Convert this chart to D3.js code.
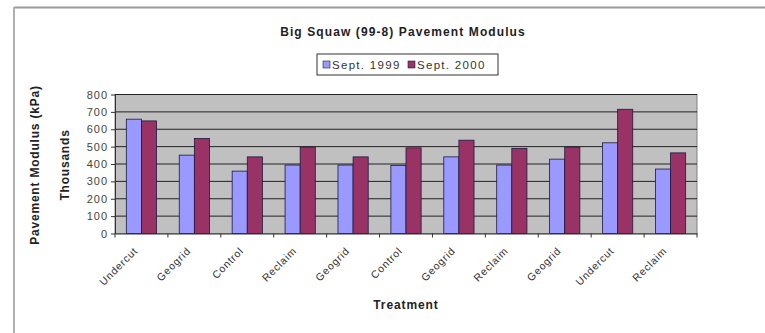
<!DOCTYPE html>
<html>
<head>
<meta charset="utf-8">
<script src="https://cdn.jsdelivr.net/npm/d3@7"></script>
<style>
  html, body { margin: 0; padding: 0; background: #fff; }
  svg { display: block; font-family: Arial, "Liberation Sans", sans-serif; }
</style>
</head>
<body>
<svg id="chart" width="765" height="333"></svg>
<script>
// Pavement modulus by treatment section (kPa, in thousands)
const categories = ["Undercut", "Geogrid", "Control", "Reclaim", "Geogrid", "Control",
                    "Geogrid", "Reclaim", "Geogrid", "Undercut", "Reclaim"];
const sept1999 = [658, 451, 359, 394, 394, 392, 441, 394, 428, 522, 371];
const sept2000 = [648, 547, 441, 497, 441, 493, 537, 490, 497, 715, 464];
const seriesNames = ["Sept. 1999", "Sept. 2000"];
const yTicks = [0, 100, 200, 300, 400, 500, 600, 700, 800];

const colors = ["#9999FF", "#993366"];
const svg = d3.select("#chart");

// chart area frame (top and left edges)
svg.append("line").attr("x1", 14).attr("x2", 765).attr("y1", 7.5).attr("y2", 7.5)
  .attr("stroke", "#9a9a9a").attr("stroke-width", 2);
svg.append("line").attr("x1", 14).attr("x2", 14).attr("y1", 7).attr("y2", 333)
  .attr("stroke", "#b0b0b0").attr("stroke-width", 2);

const plot = { left: 115, right: 697, top: 94.5, bottom: 233.5 };

const x = d3.scaleBand().domain(d3.range(categories.length))
  .range([plot.left, plot.right]).paddingInner(0).paddingOuter(0);
const y = d3.scaleLinear().domain([0, 800]).range([plot.bottom, plot.top]);

// plot background
svg.append("rect").attr("x", plot.left).attr("y", plot.top)
  .attr("width", plot.right - plot.left).attr("height", plot.bottom - plot.top)
  .attr("fill", "#C0C0C0").attr("stroke", "#808080").attr("stroke-width", 1);

// gridlines
svg.append("g").selectAll("line").data(yTicks.slice(1)).join("line")
  .attr("x1", plot.left).attr("x2", plot.right)
  .attr("y1", d => y(d)).attr("y2", d => y(d))
  .attr("stroke", "#222").attr("stroke-width", 1);

// bars
const bw = x.bandwidth() / 3.5;
const groups = svg.append("g").selectAll("g").data(categories).join("g")
  .attr("transform", (d, i) => `translate(${x(i) + (x.bandwidth() - 2 * bw) / 2},0)`);
[sept1999, sept2000].forEach((vals, s) => {
  groups.append("rect")
    .attr("x", s * bw)
    .attr("y", (d, i) => y(vals[i]))
    .attr("width", bw)
    .attr("height", (d, i) => y(0) - y(vals[i]))
    .attr("fill", colors[s])
    .attr("stroke", "#1a1a40").attr("stroke-width", 0.8);
});

// y axis
const yAxis = svg.append("g").attr("transform", `translate(${plot.left},0)`)
  .call(d3.axisLeft(y).tickValues(yTicks).tickSize(4).tickSizeOuter(0).tickPadding(3));
yAxis.select(".domain").attr("stroke", "#333");
yAxis.selectAll(".tick line").attr("stroke", "#333");
yAxis.selectAll("text").attr("font-size", 11).attr("fill", "#444")
  .attr("letter-spacing", 1)
  .attr("font-family", "Arial, 'Liberation Sans', sans-serif");

// x axis
const xAxis = svg.append("g").attr("transform", `translate(0,${plot.bottom})`)
  .call(d3.axisBottom(x).tickSize(0).tickFormat(""));
xAxis.select(".domain").attr("stroke", "#333");
svg.append("g").selectAll("line").data(d3.range(categories.length + 1)).join("line")
  .attr("x1", i => plot.left + i * x.step()).attr("x2", i => plot.left + i * x.step())
  .attr("y1", plot.bottom).attr("y2", plot.bottom + 4)
  .attr("stroke", "#333");

svg.append("g").selectAll("text").data(categories).join("text")
  .attr("transform", (d, i) => `translate(${x(i) + x.bandwidth() / 2 - 3},${plot.bottom + 18}) rotate(-45)`)
  .attr("text-anchor", "end")
  .attr("font-size", 10.5).attr("letter-spacing", 0.8).attr("fill", "#333")
  .text(d => d);

// titles
svg.append("text").attr("x", 403).attr("y", 36).attr("text-anchor", "middle")
  .attr("font-size", 12).attr("letter-spacing", 1.1).attr("font-weight", "bold").attr("fill", "#222")
  .text("Big Squaw (99-8) Pavement Modulus");

svg.append("text").attr("x", 406).attr("y", 309).attr("text-anchor", "middle")
  .attr("font-size", 12).attr("letter-spacing", 0.9).attr("font-weight", "bold").attr("fill", "#222")
  .text("Treatment");

svg.append("text").attr("transform", "translate(39,165) rotate(-90)")
  .attr("text-anchor", "middle").attr("font-size", 12).attr("letter-spacing", 0.8)
  .attr("font-weight", "bold").attr("fill", "#222")
  .text("Pavement Modulus (kPa)");
svg.append("text").attr("transform", "translate(69,165) rotate(-90)")
  .attr("text-anchor", "middle").attr("font-size", 12).attr("letter-spacing", 0.8)
  .attr("font-weight", "bold").attr("fill", "#222")
  .text("Thousands");

// legend
const lg = svg.append("g").attr("transform", "translate(317,54)");
lg.append("rect").attr("width", 181).attr("height", 21)
  .attr("fill", "#fff").attr("stroke", "#333").attr("stroke-width", 1);
const items = lg.selectAll("g").data(seriesNames).join("g")
  .attr("transform", (d, i) => `translate(${6 + i * 85},0)`);
items.append("rect").attr("x", 0).attr("y", 7).attr("width", 7).attr("height", 7)
  .attr("fill", (d, i) => colors[i]).attr("stroke", "#222").attr("stroke-width", 0.6);
items.append("text").attr("x", 9).attr("y", 15)
  .attr("font-size", 11.5).attr("letter-spacing", 1.3).attr("fill", "#333").text(d => d);
</script>
</body>
</html>
